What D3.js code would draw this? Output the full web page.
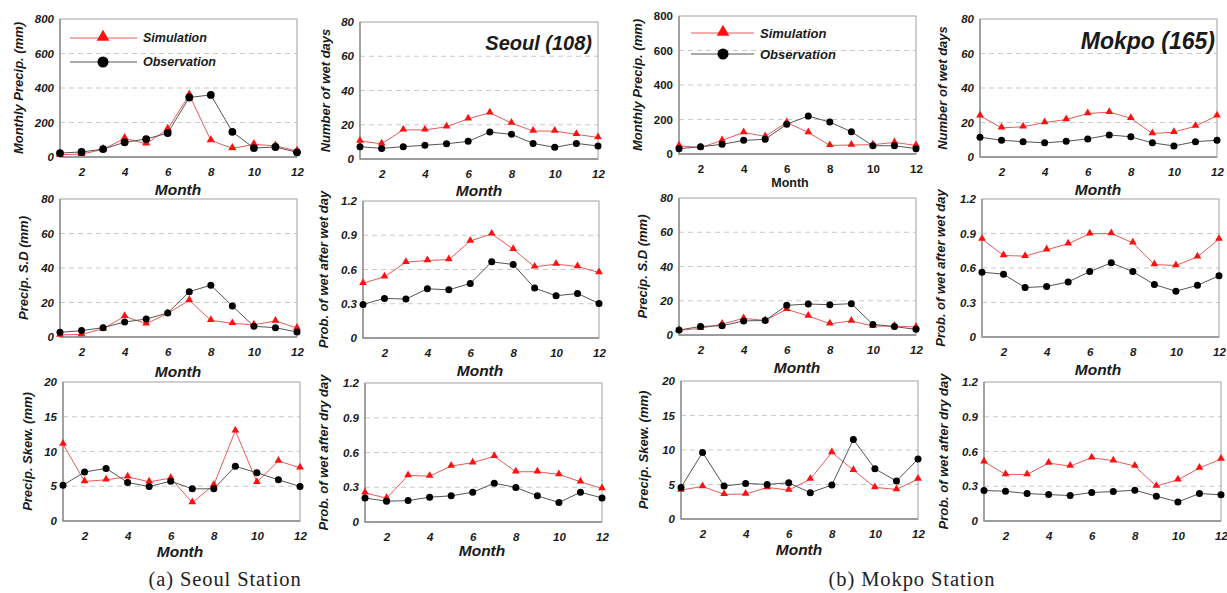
<!DOCTYPE html>
<html>
<head>
<meta charset="utf-8">
<script src="https://cdn.jsdelivr.net/npm/d3@7"></script>
<style>
body { margin: 0; background: #fff; }
text { font-family: "Liberation Sans", Arial, sans-serif; fill: #1a1a1a; }
.tick text { font-size: 11.5px; font-weight: bold; font-style: italic; }
.upright .tick text { font-style: normal; }
.grid { stroke: #c9c9c9; stroke-dasharray: 5,4; }
.frame { fill: none; stroke: #a0a0a0; }
.ytitle { font-size: 13px; font-weight: bold; font-style: italic; }
.month { font-size: 15.5px; font-weight: bold; font-style: italic; }
.caption { font-family: "Liberation Serif", "DejaVu Serif", serif; font-size: 20.5px; letter-spacing: 0.9px; fill: #222; }
</style>
</head>
<body>
<svg width="1227" height="593"></svg>
<script>
// months on the x axis, only even months are labelled
var months = [1, 2, 3, 4, 5, 6, 7, 8, 9, 10, 11, 12];
var xTicks = [2, 4, 6, 8, 10, 12];

var precipTicks = [0, 200, 400, 600, 800];
var daysTicks = [0, 20, 40, 60, 80];
var sdTicks = [0, 20, 40, 60, 80];
var probTicks = [0, 0.3, 0.6, 0.9, 1.2];
var skewTicks = [0, 5, 10, 15, 20];

// Seoul (108)
var seoulPrecipObs = [23, 29, 46, 85, 104, 139, 345, 360, 146, 52, 58, 27];
var seoulPrecipSim = [13, 17, 44, 108, 77, 162, 360, 96, 50, 73, 65, 35];
var seoulDaysObs = [7.2, 6.2, 7.2, 8.0, 8.9, 10.3, 15.7, 14.4, 9.1, 6.8, 9.1, 7.6];
var seoulDaysSim = [10.5, 8.9, 17, 17, 18.8, 23.5, 27, 21, 16.3, 16.3, 14.4, 12.6];
var seoulSdObs = [2.7, 3.7, 5.4, 8.7, 10.4, 13.9, 26.3, 30, 18, 6.2, 5.4, 2.9];
var seoulSdSim = [1.2, 1.5, 4.8, 12, 7.7, 13.7, 21.3, 9.7, 7.9, 7.1, 9.3, 5.2];
var seoulWwObs = [0.294, 0.347, 0.341, 0.431, 0.422, 0.478, 0.667, 0.644, 0.437, 0.37, 0.39, 0.303];
var seoulWwSim = [0.48, 0.536, 0.664, 0.679, 0.687, 0.85, 0.912, 0.778, 0.623, 0.647, 0.626, 0.574];
var seoulSkewObs = [5.16, 7.04, 7.57, 5.54, 4.96, 5.73, 4.63, 4.63, 7.86, 6.94, 5.93, 4.96];
var seoulSkewSim = [11.08, 5.69, 5.93, 6.36, 5.64, 6.17, 2.65, 5.2, 13.0, 5.59, 8.63, 7.66];
var seoulWdObs = [0.208, 0.179, 0.185, 0.214, 0.226, 0.257, 0.335, 0.298, 0.226, 0.168, 0.257, 0.208];
var seoulWdSim = [0.252, 0.205, 0.402, 0.396, 0.483, 0.512, 0.567, 0.434, 0.434, 0.411, 0.347, 0.289];

// Mokpo (165)
var mokpoPrecipObs = [31, 42, 56, 79, 85, 173, 220, 185, 129, 48, 48, 31];
var mokpoPrecipSim = [48, 37, 79, 125, 102, 183, 125, 50, 52, 54, 67, 50];
var mokpoDaysObs = [11.5, 9.7, 8.9, 8.2, 9.1, 10.5, 12.8, 11.7, 8.2, 6.4, 8.9, 9.7];
var mokpoDaysSim = [23.9, 16.9, 17.5, 20, 21.7, 25.2, 26, 22.5, 13.6, 14.4, 17.9, 23.9];
var mokpoSdObs = [2.9, 5.0, 5.4, 8.2, 8.5, 17.3, 18.1, 17.7, 18.3, 6.2, 4.9, 3.3];
var mokpoSdSim = [2.7, 3.9, 6.4, 9.7, 8.5, 15, 11.1, 6.6, 8.2, 5.2, 5.2, 4.7];
var mokpoWwObs = [0.564, 0.546, 0.43, 0.439, 0.479, 0.569, 0.645, 0.569, 0.456, 0.398, 0.45, 0.532];
var mokpoWwSim = [0.851, 0.709, 0.703, 0.758, 0.811, 0.898, 0.9, 0.819, 0.63, 0.622, 0.697, 0.851];
var mokpoSkewObs = [4.58, 9.64, 4.77, 5.16, 5.01, 5.25, 3.81, 4.92, 11.52, 7.28, 5.49, 8.7];
var mokpoSkewSim = [4.19, 4.72, 3.57, 3.61, 4.58, 4.19, 5.78, 9.64, 7.08, 4.58, 4.29, 5.8];
var mokpoWdObs = [0.263, 0.257, 0.237, 0.228, 0.22, 0.246, 0.254, 0.266, 0.214, 0.165, 0.237, 0.226];
var mokpoWdSim = [0.512, 0.402, 0.402, 0.5, 0.474, 0.547, 0.52, 0.474, 0.301, 0.356, 0.457, 0.535];

var simColor = "#ff1010", simLine = "#e85a5a";
var obsColor = "#000", obsLine = "#555";

var svg = d3.select("svg");

// panel boxes (plot area) and label placement
var panels = [
  {l: 60, r: 297, t: 19, b: 157, obs: seoulPrecipObs, sim: seoulPrecipSim, ticks: precipTicks, title: "Monthly Precip. (mm)", tx: 18, month: [178, 195], big: true},
  {l: 360, r: 598, t: 22, b: 159, obs: seoulDaysObs, sim: seoulDaysSim, ticks: daysTicks, title: "Number of wet days", tx: 325, month: [479, 196]},
  {l: 679, r: 916, t: 16, b: 154, obs: mokpoPrecipObs, sim: mokpoPrecipSim, ticks: precipTicks, title: "Monthly Precip. (mm)", tx: 637, month: [790, 187], upright: true},
  {l: 980, r: 1217, t: 19, b: 157, obs: mokpoDaysObs, sim: mokpoDaysSim, ticks: daysTicks, title: "Number of wet days", tx: 942, month: [1098, 195]},

  {l: 60, r: 297, t: 199, b: 337, obs: seoulSdObs, sim: seoulSdSim, ticks: sdTicks, title: "Precip. S.D (mm)", tx: 23, month: [178, 377]},
  {l: 363, r: 599, t: 201, b: 338, obs: seoulWwObs, sim: seoulWwSim, ticks: probTicks, title: "Prob. of wet after wet day", tx: 323, month: [480, 376]},
  {l: 679, r: 916, t: 198, b: 335, obs: mokpoSdObs, sim: mokpoSdSim, ticks: sdTicks, title: "Precip. S.D (mm)", tx: 642, month: [797, 373]},
  {l: 982, r: 1219, t: 199, b: 337, obs: mokpoWwObs, sim: mokpoWwSim, ticks: probTicks, title: "Prob. of wet after wet day", tx: 940, month: [1098, 375]},

  {l: 63, r: 300, t: 382, b: 521, obs: seoulSkewObs, sim: seoulSkewSim, ticks: skewTicks, title: "Precip. Skew. (mm)", tx: 27, month: [180, 557]},
  {l: 365, r: 602, t: 383, b: 522, obs: seoulWdObs, sim: seoulWdSim, ticks: probTicks, title: "Prob. of wet after dry day", tx: 323, month: [482, 556]},
  {l: 681, r: 918, t: 381, b: 519, obs: mokpoSkewObs, sim: mokpoSkewSim, ticks: skewTicks, title: "Precip. Skew. (mm)", tx: 643, month: [799, 555]},
  {l: 984, r: 1221, t: 382, b: 521, obs: mokpoWdObs, sim: mokpoWdSim, ticks: probTicks, title: "Prob. of wet after dry day", tx: 943, month: null}
];

var tri = function(size) { return d3.symbol().type(d3.symbolTriangle).size(size)(); };

panels.forEach(function(p) {
  var g = svg.append("g").attr("class", p.upright ? "upright" : null);
  var ymax = p.ticks[p.ticks.length - 1];
  var x = d3.scaleLinear().domain([1, 12]).range([p.l, p.r]);
  var y = d3.scaleLinear().domain([0, ymax]).range([p.b, p.t]);

  // dashed grid on the inner ticks
  g.selectAll(".grid")
    .data(p.ticks.slice(1, -1))
    .enter().append("line")
    .attr("class", "grid")
    .attr("x1", p.l).attr("x2", p.r)
    .attr("y1", function(d) { return y(d); })
    .attr("y2", function(d) { return y(d); });

  g.append("rect").attr("class", "frame")
    .attr("x", p.l).attr("y", p.t)
    .attr("width", p.r - p.l).attr("height", p.b - p.t);
  g.append("path")
    .attr("d", "M" + p.l + "," + p.t + "V" + p.b + "H" + p.r)
    .attr("fill", "none").attr("stroke", "#8a8a8a").attr("stroke-width", 1.3);

  var fmt = ymax < 2 ? function(d) { return d === 0 ? "0" : d3.format(".1f")(d); } : d3.format("d");

  var xa = g.append("g").attr("transform", "translate(0," + p.b + ")")
    .call(d3.axisBottom(x).tickValues(xTicks).tickSize(0).tickPadding(11));
  xa.select(".domain").remove();

  var ya = g.append("g").attr("transform", "translate(" + p.l + ",0)")
    .call(d3.axisLeft(y).tickValues(p.ticks).tickFormat(fmt).tickSize(0).tickPadding(6));
  ya.select(".domain").remove();

  g.append("text").attr("class", "ytitle")
    .attr("transform", "translate(" + p.tx + "," + ((p.t + p.b) / 2) + ") rotate(-90)")
    .attr("text-anchor", "middle").attr("dy", "0.35em")
    .text(p.title);

  if (p.month) {
    g.append("text").attr("class", "month")
      .attr("x", p.month[0]).attr("y", p.month[1])
      .attr("text-anchor", "middle")
      .style("font-style", p.upright ? "normal" : null)
      .style("font-size", p.upright ? "12.5px" : null)
      .text("Month");
  }

  var line = d3.line().x(function(d, i) { return x(months[i]); }).y(function(d) { return y(d); });

  g.append("path").datum(p.sim).attr("d", line)
    .attr("fill", "none").attr("stroke", simLine).attr("stroke-width", 1);
  g.append("path").datum(p.obs).attr("d", line)
    .attr("fill", "none").attr("stroke", obsLine).attr("stroke-width", 1);

  g.selectAll(".simpt").data(p.sim).enter().append("path")
    .attr("transform", function(d, i) { return "translate(" + x(months[i]) + "," + (y(d) - 0.5) + ")"; })
    .attr("d", tri(p.big ? 30 : 26)).attr("fill", simColor);
  g.selectAll(".obspt").data(p.obs).enter().append("circle")
    .attr("cx", function(d, i) { return x(months[i]); })
    .attr("cy", function(d) { return y(d); })
    .attr("r", p.big ? 3.9 : 3.5).attr("fill", obsColor);
});

// legends
function legend(x0, x1, xm, ySim, yObs, fs) {
  var g = svg.append("g");
  g.append("line").attr("x1", x0).attr("x2", x1).attr("y1", ySim).attr("y2", ySim).attr("stroke", simLine);
  g.append("path").attr("transform", "translate(" + xm + "," + (ySim - 1) + ")").attr("d", tri(70)).attr("fill", simColor);
  g.append("line").attr("x1", x0).attr("x2", x1).attr("y1", yObs).attr("y2", yObs).attr("stroke", obsLine);
  g.append("circle").attr("cx", xm).attr("cy", yObs).attr("r", 5.5).attr("fill", obsColor);
  g.append("text").attr("x", x1 + 6).attr("y", ySim).attr("dy", "0.35em")
    .style("font-size", fs + "px").style("font-weight", "bold").style("font-style", "italic").text("Simulation");
  g.append("text").attr("x", x1 + 6).attr("y", yObs).attr("dy", "0.35em")
    .style("font-size", fs + "px").style("font-weight", "bold").style("font-style", "italic").text("Observation");
}
legend(70, 137, 103, 38, 62, 12.5);
legend(691, 754, 723, 33, 54, 13);

// station names
svg.append("text").attr("x", 592).attr("y", 50).attr("text-anchor", "end")
  .style("font-size", "20px").style("font-weight", "bold").style("font-style", "italic").text("Seoul (108)");
svg.append("text").attr("x", 1215).attr("y", 49).attr("text-anchor", "end")
  .style("font-size", "23px").style("font-weight", "bold").style("font-style", "italic").text("Mokpo (165)");

// captions
svg.append("text").attr("class", "caption").attr("x", 225).attr("y", 586).attr("text-anchor", "middle").text("(a) Seoul Station");
svg.append("text").attr("class", "caption").attr("x", 912).attr("y", 586).attr("text-anchor", "middle").text("(b) Mokpo Station");
</script>
</body>
</html>
